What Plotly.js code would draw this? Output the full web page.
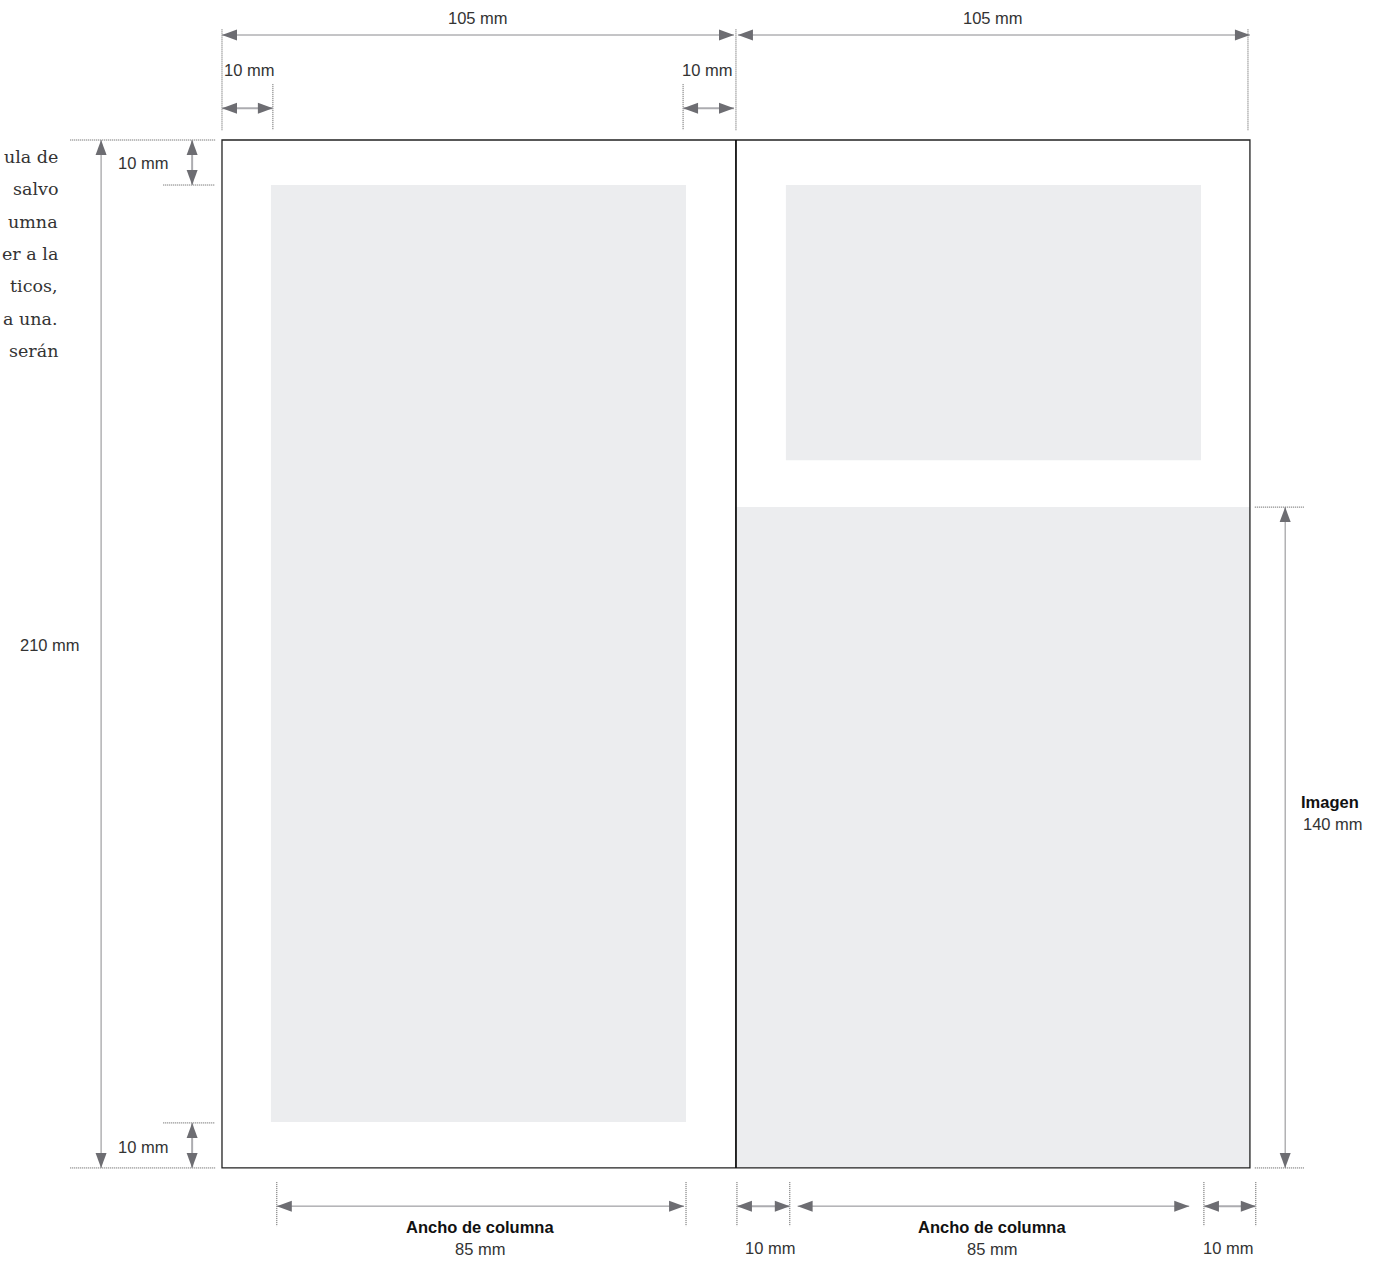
<!DOCTYPE html>
<html>
<head>
<meta charset="utf-8">
<script src="https://cdn.plot.ly/plotly-3.0.1.min.js"></script>
<style>html,body{margin:0;padding:0;background:#fff;overflow:hidden}#chart{width:1384px;height:1261px}</style>
</head>
<body>
<div id="chart"></div>
<script>
// ---- Diagram values (millimetres) ----
const pageSize = [210, 210];
const spreadHalf = 105;
const leftBlock = [10, 94.8, 9.2, 200.6];      // x0, x1, y0, y1
const rightTopBlock = [115.2, 200.0, 9.2, 65.4];
const imageBlock = [105, 210, 75, 210];

const topLabels = ['105 mm', '105 mm'];
const marginLabel = '10 mm';
const heightLabel = '210 mm';
const columnLabel = 'Ancho de columna';
const columnValue = '85 mm';
const imageLabel = 'Imagen';
const imageValue = '140 mm';
const sideText = ['ula de', 'salvo', 'umna', 'er a la', 'ticos,', 'a una.', 'serán'];

// dimension arrows: [x0, y0, x1, y1, kind]
const dimArrows = [
  [0, -21.45, 104.6, -21.45, 'long'],
  [105.4, -21.45, 210, -21.45, 'long'],
  [0, -6.5, 10.4, -6.5, 'short'],
  [94.2, -6.5, 104.6, -6.5, 'short'],
  [-24.7, 0, -24.7, 210, 'long'],
  [-6.1, 0, -6.1, 9.2, 'short'],
  [-6.1, 200.8, -6.1, 210, 'short'],
  [11.2, 217.8, 94.4, 217.8, 'long'],
  [105.2, 217.8, 116.0, 217.8, 'short'],
  [117.6, 217.8, 197.6, 217.8, 'long'],
  [200.6, 217.8, 211.2, 217.8, 'short'],
  [217.2, 75, 217.2, 210, 'long']
];
// extension (dotted) lines: [x0, y0, x1, y1]
const extLines = [
  [0, -22.6, 0, -2], [105, -22.6, 105, -2], [209.6, -22.6, 209.6, -2],
  [10.4, -11.4, 10.4, -2], [94.2, -11.4, 94.2, -2],
  [-31, 0, -1.4, 0], [-31, 210, -1.4, 210],
  [-12, 9.2, -1.4, 9.2], [-12, 200.8, -1.4, 200.8],
  [11.2, 212.9, 11.2, 221.9], [94.8, 212.9, 94.8, 221.9],
  [105.2, 212.9, 105.2, 221.9], [116.0, 212.9, 116.0, 221.9],
  [200.6, 212.9, 200.6, 221.9], [211.2, 212.9, 211.2, 221.9],
  [211, 75, 221.2, 75], [211, 210, 221.2, 210]
];

const shapes = [];
function rect(b) {
  shapes.push({type: 'rect', xref: 'x', yref: 'y', x0: b[0], x1: b[1], y0: b[2], y1: b[3],
    fillcolor: '#ECEDEF', line: {width: 0}, layer: 'below'});
}
rect(leftBlock); rect(rightTopBlock); rect(imageBlock);

// page outline & centre fold
shapes.push({type: 'rect', xref: 'x', yref: 'y', x0: 0, x1: pageSize[0], y0: 0, y1: pageSize[1],
  fillcolor: 'rgba(0,0,0,0)', line: {color: '#222', width: 1.3}});
shapes.push({type: 'line', xref: 'x', yref: 'y', x0: spreadHalf, x1: spreadHalf, y0: 0, y1: pageSize[1],
  line: {color: '#111', width: 1.8}});

extLines.forEach(e => shapes.push({type: 'line', xref: 'x', yref: 'y', x0: e[0], y0: e[1], x1: e[2], y1: e[3],
  line: {color: '#555', width: 1, dash: '1px,1px'}}));

const HL = 15 / 4.895, HW = 5.5 / 4.895;
function head(tx, ty, dx, dy) {
  const bx = tx - dx * HL, by = ty - dy * HL;
  const px = -dy * HW, py = dx * HW;
  return `M${tx},${ty} L${bx + px},${by + py} L${bx - px},${by - py} Z`;
}
dimArrows.forEach(d => {
  const [x0, y0, x1, y1, kind] = d;
  const len = Math.hypot(x1 - x0, y1 - y0);
  const ux = (x1 - x0) / len, uy = (y1 - y0) / len;
  shapes.push({type: 'line', xref: 'x', yref: 'y', x0: x0, y0: y0, x1: x1, y1: y1,
    line: kind === 'long' ? {color: '#8a8a8e', width: 1} : {color: '#acacb0', width: 2}});
  [[x1, y1, ux, uy], [x0, y0, -ux, -uy]].forEach(h => shapes.push({
    type: 'path', xref: 'x', yref: 'y', path: head(h[0], h[1], h[2], h[3]),
    fillcolor: '#6d6d72', line: {width: 0}}));
});

const sans = 'Liberation Sans, Arial, sans-serif';
const ann = [];
function label(text, x, y, opts) {
  ann.push(Object.assign({text: text, x: x, y: y, xref: 'x', yref: 'y', showarrow: false,
    font: {family: sans, size: 16.5, color: '#333'}, xanchor: 'center', yanchor: 'middle'}, opts || {}));
}
label(topLabels[0], 52.3, -24.9);
label(topLabels[1], 157.5, -24.9);
label(marginLabel, 0.1, -14.3, {xanchor: 'left'});
label(marginLabel, 104.7, -14.3, {xanchor: 'right'});
label(heightLabel, -35.1, 103.2);
label(marginLabel, -16.1, 4.6);
label(marginLabel, -16.1, 205.7);
const bold = {family: sans, size: 16.5, color: '#111', weight: 'bold'};
label('<b>' + columnLabel + '</b>', 52.7, 222.1, {font: bold});
label(columnValue, 52.7, 226.6);
label('<b>' + columnLabel + '</b>', 157.3, 222.1, {font: bold});
label(columnValue, 157.3, 226.6);
label(marginLabel, 112.0, 226.4);
label(marginLabel, 205.5, 226.4);
label('<b>' + imageLabel + '</b>', 226.4, 135.3, {font: bold});
label(imageValue, 227.0, 139.8);
sideText.forEach((t, i) => label(t, -33.1, 3.5 + i * 6.6,
  {xanchor: 'right', font: {family: 'DejaVu Serif, serif', size: 17.5, color: '#333'}}));

const layout = {
  width: 1384, height: 1261,
  margin: {l: 0, r: 0, t: 0, b: 0},
  paper_bgcolor: '#fff', plot_bgcolor: '#fff',
  showlegend: false,
  xaxis: {range: [-45.35, 237.39], visible: false, fixedrange: true},
  yaxis: {range: [229.01, -28.60], visible: false, fixedrange: true},
  shapes: shapes,
  annotations: ann
};
Plotly.newPlot('chart', [], layout, {staticPlot: true, displayModeBar: false});
</script>
</body>
</html>
